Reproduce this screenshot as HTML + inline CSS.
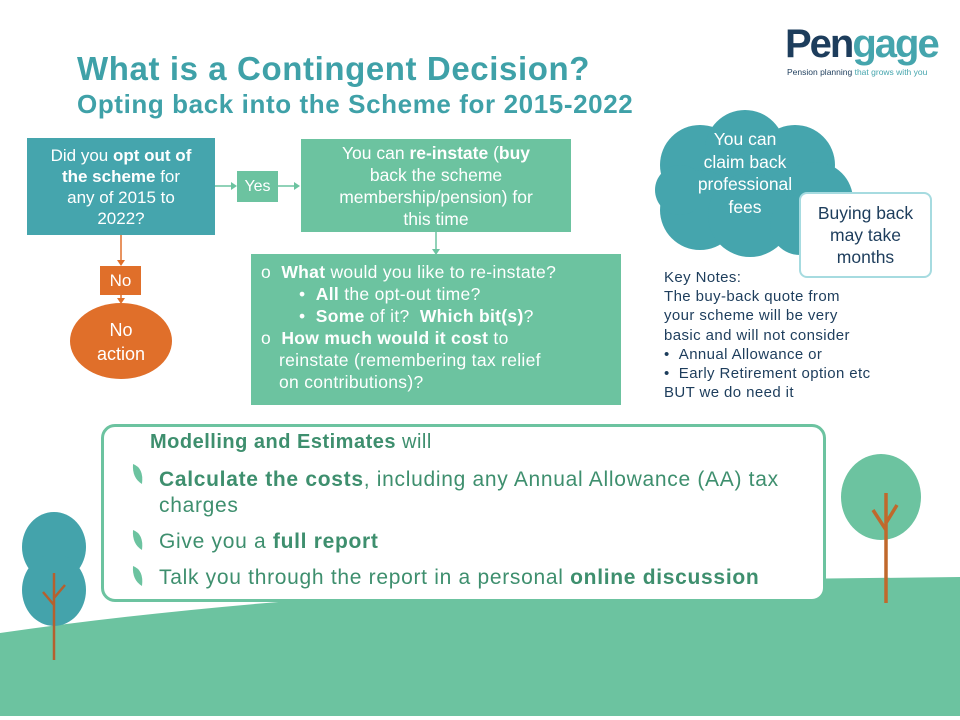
<!DOCTYPE html><html><head><meta charset="utf-8"><style>
*{margin:0;padding:0;box-sizing:border-box}
body{width:960px;height:720px;position:relative;overflow:hidden;background:#fff;font-family:"Liberation Sans",sans-serif}
.a{position:absolute}
.c{text-align:center;display:flex;align-items:center;justify-content:center;color:#fff}
</style></head><body>
<svg class="a" style="left:0;top:0" width="960" height="720">
<path d="M0 633 Q300 590 700 580 L960 577 L960 716 L0 716Z" fill="#6cc3a0"/>
<ellipse cx="54" cy="547" rx="32" ry="35" fill="#44a3ab"/>
<ellipse cx="54" cy="590" rx="32" ry="36" fill="#44a3ab"/>
<path d="M54 573 V660 M54 605 L43 592 M54 598 L65 585" stroke="#b5602e" stroke-width="2.5" fill="none"/>
<ellipse cx="881" cy="497" rx="40" ry="43" fill="#6cc3a0"/>
<path d="M886 493 V603 M886 530 L873 510 M886 523 L897 505" stroke="#c0692c" stroke-width="3.5" fill="none"/>
<g fill="#45a5ad">
<circle cx="700" cy="165" r="40"/><circle cx="745" cy="150" r="40"/><circle cx="795" cy="165" r="40"/>
<circle cx="815" cy="200" r="38"/><circle cx="700" cy="210" r="40"/><circle cx="750" cy="215" r="42"/><circle cx="800" cy="225" r="30"/>
<circle cx="680" cy="190" r="25"/></g>
<g stroke="#6cc3a0" stroke-width="1.5" fill="#6cc3a0">
<line x1="215" y1="186" x2="234" y2="186"/><polygon points="237,186 231,182 231,190" stroke="none"/>
<line x1="278" y1="186" x2="297" y2="186"/><polygon points="300,186 294,182 294,190" stroke="none"/>
<line x1="436" y1="232" x2="436" y2="251"/><polygon points="436,255 432,249 440,249" stroke="none"/>
</g>
<g stroke="#e06f2a" stroke-width="1.5" fill="#e06f2a">
<line x1="121" y1="235" x2="121" y2="262"/><polygon points="121,266 117,260 125,260" stroke="none"/>
<line x1="121" y1="295" x2="121" y2="299"/><polygon points="121,304 117,298 125,298" stroke="none"/>
</g>
<ellipse cx="121" cy="341" rx="51" ry="38" fill="#e06f2a"/>
</svg>
<div class="a" style="left:785px;top:22px;font-size:40px;font-weight:bold;color:#1d3d5c;letter-spacing:-2px">Pen<span style="color:#45a5ad">gage</span></div>
<div class="a" style="left:787px;top:67px;font-size:8.5px;color:#1d3d5c;white-space:nowrap">Pension planning <span style="color:#45a5ad">that grows with you</span></div>
<div class="a" style="left:77px;top:50px;font-size:33px;letter-spacing:0.6px;font-weight:bold;color:#3fa1a8;white-space:nowrap">What is a Contingent Decision?</div>
<div class="a" style="left:77px;top:89px;font-size:26px;letter-spacing:0.6px;font-weight:bold;color:#3fa1a8;white-space:nowrap">Opting back into the Scheme for 2015-2022</div>
<div class="a c" style="left:27px;top:138px;width:188px;height:97px;background:#45a5ad;font-size:17px;line-height:21px"><div>Did you <b>opt out of<br>the scheme</b> for<br>any of 2015 to<br>2022?</div></div>
<div class="a c" style="left:237px;top:171px;width:41px;height:31px;background:#6cc3a0;font-size:16px"><div>Yes</div></div>
<div class="a c" style="left:301px;top:139px;width:270px;height:93px;background:#6cc3a0;font-size:17.5px;line-height:22px"><div>You can <b>re-instate</b> (<b>buy</b><br>back the scheme<br>membership/pension) for<br>this time</div></div>
<div class="a" style="left:251px;top:254px;width:370px;height:151px;background:#6cc3a0;color:#fff;font-size:17.5px;letter-spacing:0.3px;line-height:22px;padding:7px 0 0 10px;white-space:nowrap">
<div>o&nbsp; <b>What</b> would you like to re-instate?</div>
<div style="padding-left:38px">• &nbsp;<b>All</b> the opt-out time?</div>
<div style="padding-left:38px">• &nbsp;<b>Some</b> of it?&nbsp; <b>Which bit(s)</b>?</div>
<div>o&nbsp; <b>How much would it cost</b> to</div>
<div style="padding-left:18px">reinstate (remembering tax relief<br>on contributions)?</div></div>
<div class="a c" style="left:100px;top:266px;width:41px;height:29px;background:#e06f2a;font-size:17px"><div>No</div></div>
<div class="a c" style="left:70px;top:318px;width:102px;font-size:18px;line-height:24px"><div>No<br>action</div></div>
<div class="a c" style="left:680px;top:128px;width:130px;font-size:17.5px;line-height:22.5px"><div>You can<br>claim back<br>professional<br>fees</div></div>
<div class="a c" style="left:799px;top:192px;width:133px;height:86px;background:#fff;border:2px solid #a6dbe0;border-radius:8px;color:#1d3d5c;font-size:17.5px;line-height:22px"><div>Buying back<br>may take<br>months</div></div>
<div class="a" style="left:664px;top:268px;font-size:15px;letter-spacing:0.4px;line-height:19.2px;color:#1d3d5c;white-space:nowrap">Key Notes:<br>The buy-back quote from<br>your scheme will be very<br>basic and will not consider<br>• &nbsp;Annual Allowance or<br>• &nbsp;Early Retirement option etc<br>BUT we do need it</div>
<div class="a" style="left:101px;top:424px;width:725px;height:178px;background:#fff;border:3px solid #6cc3a0;border-radius:14px"></div>
<div class="a" style="left:150px;top:431px;font-size:20px;letter-spacing:0.5px;color:#3e8f6e;white-space:nowrap"><b>Modelling and Estimates</b> will</div>
<div class="a" style="left:159px;top:467px;font-size:21px;letter-spacing:0.7px;line-height:26px;color:#3e8f6e;white-space:nowrap"><b>Calculate the costs</b>, including any Annual Allowance (AA) tax<br>charges</div>
<div class="a" style="left:159px;top:530px;font-size:21px;letter-spacing:0.7px;color:#3e8f6e;white-space:nowrap">Give you a <b>full report</b></div>
<div class="a" style="left:159px;top:566px;font-size:21px;letter-spacing:0.7px;color:#3e8f6e;white-space:nowrap">Talk you through the report in a personal <b>online discussion</b></div>
<svg class="a" style="left:130px;top:462px" width="20" height="130"><g fill="#6cc3a0">
<path d="M3 2 Q14 6 12 22 Q2 16 3 2Z"/><path d="M3 68 Q14 72 12 88 Q2 82 3 68Z"/><path d="M3 104 Q14 108 12 124 Q2 118 3 104Z"/></g></svg>
</body></html>
